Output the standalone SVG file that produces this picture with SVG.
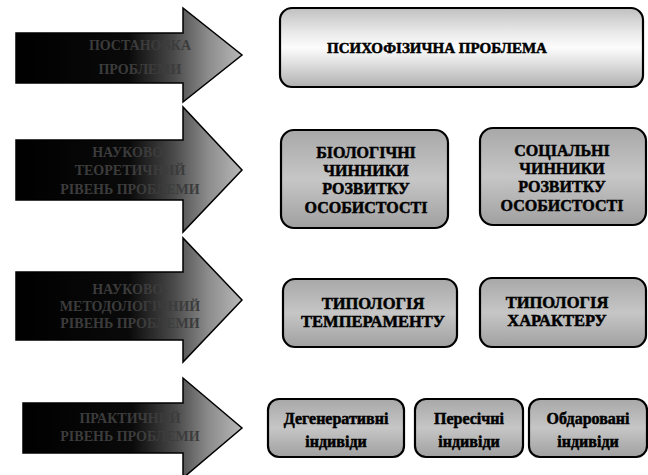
<svg xmlns="http://www.w3.org/2000/svg" width="648" height="475" viewBox="0 0 648 475">
<defs>
<linearGradient id="arrG" x1="0" y1="0" x2="1" y2="0">
<stop offset="0" stop-color="#000"/>
<stop offset="0.5" stop-color="#0a0a0a"/>
<stop offset="0.7" stop-color="#4a4a4a"/>
<stop offset="0.85" stop-color="#8c8c8c"/>
<stop offset="1" stop-color="#b8b8b8"/>
</linearGradient>
<linearGradient id="box1G" x1="0" y1="0" x2="0" y2="1">
<stop offset="0" stop-color="#c0c0c0"/>
<stop offset="0.3" stop-color="#e8e8e8"/>
<stop offset="0.5" stop-color="#fcfcfc"/>
<stop offset="0.7" stop-color="#e0e0e0"/>
<stop offset="1" stop-color="#b0b0b0"/>
</linearGradient>
<linearGradient id="boxG" x1="0" y1="0" x2="0" y2="1">
<stop offset="0" stop-color="#a8a8a8"/>
<stop offset="0.5" stop-color="#c6c6c6"/>
<stop offset="1" stop-color="#a0a0a0"/>
</linearGradient>
</defs>
<style>
.arrow{fill:url(#arrG);stroke:#000;stroke-width:1.5;stroke-linejoin:miter}
.box{stroke:#000;stroke-width:2.2}
.b1{fill:url(#box1G)}
.b2{fill:url(#boxG)}
.t{font-family:"Liberation Serif","DejaVu Serif",serif;font-weight:bold;text-anchor:middle}
.tb{fill:#000;stroke:#000;stroke-width:0.5px}
.f15{font-size:15px}
.f16{font-size:16px}
.f165{font-size:16.5px}
.ta{font-size:14px;fill:#3c3c3c}
</style>
<rect width="648" height="475" fill="#fff"/>
<g id="arrow1">
<polygon class="arrow" points="16,33 183,33 183,8 242,55 183,102 183,83 16,83"/>
<text class="t ta" x="140" y="50">ПОСТАНОВКА</text>
<text class="t ta" x="140" y="74">ПРОБЛЕМИ</text>
</g>
<g id="arrow2">
<polygon class="arrow" points="16,140 183,140 183,107 242,170 183,232 183,200 16,200"/>
<text class="t ta" x="130" y="157">НАУКОВО-</text>
<text class="t ta" x="130" y="175">ТЕОРЕТИЧНИЙ</text>
<text class="t ta" x="130" y="194">РІВЕНЬ ПРОБЛЕМИ</text>
</g>
<g id="arrow3">
<polygon class="arrow" points="16,272 183,272 183,238 242,300 183,362 183,340 16,340"/>
<text class="t ta" x="130" y="294">НАУКОВО-</text>
<text class="t ta" x="130" y="311">МЕТОДОЛОГІЧНИЙ</text>
<text class="t ta" x="130" y="328">РІВЕНЬ ПРОБЛЕМИ</text>
</g>
<g id="arrow4">
<polygon class="arrow" points="23,403 183,403 183,378 242,428 183,478 183,453 23,453"/>
<text class="t ta" x="130" y="423">ПРАКТИЧНИЙ</text>
<text class="t ta" x="130" y="441">РІВЕНЬ ПРОБЛЕМИ</text>
</g>
<g id="box1">
<rect class="box b1" x="280" y="8" width="363" height="79" rx="12"/>
<text class="t tb f15" x="437" y="53">ПСИХОФІЗИЧНА ПРОБЛЕМА</text>
</g>
<g id="box2">
<rect class="box b2" x="281" y="130" width="167" height="98" rx="13"/>
<text class="t tb f16" x="366" y="158">БІОЛОГІЧНІ</text>
<text class="t tb f16" x="366" y="176">ЧИННИКИ</text>
<text class="t tb f16" x="366" y="194">РОЗВИТКУ</text>
<text class="t tb f16" x="366" y="213">ОСОБИСТОСТІ</text>
</g>
<g id="box3">
<rect class="box b2" x="480" y="128" width="166" height="97" rx="13"/>
<text class="t tb f16" x="562" y="156">СОЦІАЛЬНІ</text>
<text class="t tb f16" x="562" y="174">ЧИННИКИ</text>
<text class="t tb f16" x="562" y="192">РОЗВИТКУ</text>
<text class="t tb f16" x="562" y="211">ОСОБИСТОСТІ</text>
</g>
<g id="box4">
<rect class="box b2" x="283" y="279" width="174" height="68" rx="12"/>
<text class="t tb f165" x="373" y="309">ТИПОЛОГІЯ</text>
<text class="t tb f165" x="373" y="327">ТЕМПЕРАМЕНТУ</text>
</g>
<g id="box5">
<rect class="box b2" x="480" y="278" width="166" height="69" rx="12"/>
<text class="t tb f165" x="557" y="308">ТИПОЛОГІЯ</text>
<text class="t tb f165" x="557" y="326">ХАРАКТЕРУ</text>
</g>
<g id="box6">
<rect class="box b2" x="268" y="399" width="136" height="58" rx="11"/>
<text class="t tb f16" x="336" y="424">Дегенеративні</text>
<text class="t tb f16" x="336" y="447">індивіди</text>
</g>
<g id="box7">
<rect class="box b2" x="415" y="399" width="108" height="58" rx="11"/>
<text class="t tb f16" x="469" y="424">Пересічні</text>
<text class="t tb f16" x="469" y="447">індивіди</text>
</g>
<g id="box8">
<rect class="box b2" x="529" y="399" width="118" height="58" rx="11"/>
<text class="t tb f16" x="588" y="424">Обдаровані</text>
<text class="t tb f16" x="588" y="447">індивіди</text>
</g>
<g id="connectors"></g>
</svg>
